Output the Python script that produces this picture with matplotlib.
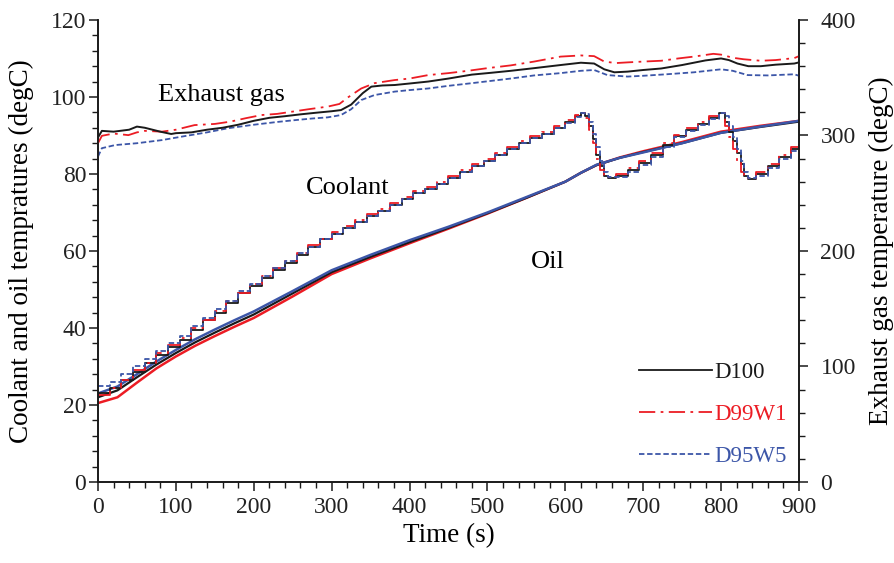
import matplotlib
matplotlib.use("Agg")
import matplotlib.pyplot as plt
from matplotlib.ticker import MultipleLocator

plt.rcParams['font.family'] = ['Liberation Serif', 'DejaVu Serif']
plt.rcParams['font.size'] = 17

BLACK = '#1a1a1a'
RED = '#ec1c24'
BLUE = '#3c56a8'

# Exhaust gas temperature (degC, right axis)
exh_t_d100 = [0, 5, 20, 40, 50, 60, 80, 94, 100, 120, 140, 160, 180, 200, 220, 240, 260, 280,
              300, 312, 325, 340, 351, 365, 381, 400, 424, 450, 480, 505, 530, 560, 594, 620,
              637, 650, 663, 680, 700, 723, 750, 780, 800, 810, 821, 835, 851, 870, 894, 900]
exh_d100 = [298.3, 304, 303.3, 305, 307.7, 306.7, 303.3, 301.3, 302, 302.7, 305, 306.7, 309.3,
            312.7, 315.3, 316.7, 318.3, 319.7, 321, 322, 326.7, 336.7, 342.3, 343.3, 343.7, 345,
            346.7, 349.3, 352.7, 354.3, 356, 358.3, 361, 363, 362.3, 357.3, 354.7, 355.3, 356.7,
            358, 361, 365, 366.7, 365.3, 362.3, 360, 360, 361.3, 362.3, 363.3]

exh_t_d99w1 = [0, 5, 20, 39, 50, 60, 82, 100, 124, 150, 170, 190, 210, 230, 250, 270, 295, 310,
               321, 338, 355, 381, 400, 424, 450, 475, 500, 530, 560, 594, 620, 637, 650, 665,
               680, 700, 723, 745, 765, 790, 800, 815, 829, 851, 870, 894, 900]
exh_d99w1 = [293.3, 299.7, 301.7, 300.3, 302.7, 304, 303.3, 305, 309, 310, 312, 315, 317.7,
             318.7, 320.7, 322.7, 325, 327.3, 333, 340.7, 345.3, 348, 349.3, 352.3, 354, 356,
             358.3, 360.7, 364, 368.3, 369.3, 368.7, 364, 362.7, 363.3, 364, 364.7, 366.7,
             368.3, 370.7, 370, 367.3, 366, 364.7, 365.3, 367, 368.7]

exh_t_d95w5 = [0, 5, 22, 50, 82, 110, 140, 167, 200, 230, 253, 275, 295, 312, 325, 338, 355,
               381, 400, 424, 450, 480, 505, 530, 560, 594, 620, 637, 654, 680, 700, 730, 765,
               800, 815, 834, 860, 894, 900]
exh_d95w5 = [281.7, 289, 291.7, 293.3, 296, 299.3, 302.7, 306.3, 309.3, 311.7, 313.3, 314.7,
             315.7, 317.7, 322.7, 330.7, 335, 338, 339.3, 340.7, 343, 345.3, 347.3, 349.3, 352,
             354, 356, 356.7, 352.3, 351, 351.7, 353, 354.7, 357.3, 356, 352.3, 352, 353, 351.7]

# Coolant temperature (degC, left axis)
cool_t = [0, 15, 30, 45, 60, 75, 90, 105, 120, 135, 150, 165, 180, 195, 210, 225, 240, 255,
          270, 285, 300, 315, 330, 345, 360, 375, 390, 405, 420, 435, 450, 465, 480, 495, 510,
          525, 540, 555, 570, 585, 600, 612, 620, 625, 630, 635, 640, 645, 650, 655, 665, 680,
          695, 710, 725, 740, 755, 770, 785, 797, 805, 810, 815, 820, 825, 830, 835, 845, 860,
          875, 890, 900]
cool_d100 = [23, 24.5, 26.5, 28.5, 31, 33, 35, 37, 39.5, 42, 44, 46.5, 49, 51, 53, 55, 57, 59,
             61, 63, 64.5, 66, 67.5, 69, 70.5, 72, 73.5, 75, 76, 77.5, 79, 80.5, 82, 83.5, 85,
             86.5, 88, 89.3, 90.5, 92, 93.5, 95, 95.8, 95, 92.5, 89, 85, 82, 79.5, 79, 79.5, 81,
             82.8, 85, 87.5, 89.8, 91.5, 93, 94.5, 95.8, 93.5, 91, 88.5, 85.5, 82.5, 79.5, 78.7,
             80, 82, 84.5, 86.5, 87.5]
cool_d99w1 = [22.5, 24.5, 26.5, 29, 31, 33.5, 35.5, 37.5, 40, 42, 44.5, 47, 49, 51.5, 53.5,
              55.5, 57.5, 59.5, 61.5, 63, 65, 66.5, 68, 69.5, 71, 72.5, 74, 75.5, 76.5, 78, 79.5,
              81, 82.5, 84, 85.5, 87, 88.5, 89.8, 91, 92.5, 94, 95.3, 95.8, 94.5, 91.5, 88, 84,
              81, 79.5, 79.3, 80, 81.5, 83.3, 85.5, 88, 90.2, 92, 93.5, 95, 95.8, 92.5, 89.5,
              86.5, 83.5, 80.5, 79, 79, 80.5, 82.5, 85, 87, 88]
cool_d95w5 = [25, 26, 28, 30, 32, 34, 36, 38, 40.5, 42.5, 45, 47, 49.5, 51.5, 53.5, 55.5, 57.5,
              59.5, 61, 63, 64.5, 66, 67.5, 69, 70.5, 72, 73.5, 75, 76, 77.5, 79, 80.5, 82, 83.5,
              85, 86.5, 88, 89.3, 90.5, 92, 93.3, 94.8, 95.8, 95.5, 93.5, 90.5, 87, 83.5, 80.5,
              79.2, 79.2, 80.5, 82.3, 84.5, 87, 89.5, 91.2, 92.8, 94.3, 95.8, 95, 92.5, 89.5,
              86.5, 83.5, 80.5, 79, 79.5, 81.5, 84, 86, 87]

# Oil temperature (degC, left axis)
oil_t = [0, 25, 50, 75, 100, 125, 150, 175, 200, 250, 300, 350, 400, 450, 500, 550, 600, 620,
         640, 670, 700, 750, 800, 850, 900]
oil_d100 = [22, 23.8, 27.2, 30.5, 33.5, 36.3, 38.8, 41.2, 43.5, 49, 54.5, 58.5, 62.3, 66,
            69.8, 73.8, 78, 80.3, 82.3, 84.2, 85.7, 88, 90.7, 92.2, 93.6]
oil_d99w1 = [20.5, 22, 25.8, 29.5, 32.6, 35.4, 37.9, 40.3, 42.6, 48.2, 54, 58.1, 62, 65.8,
             69.7, 73.8, 78, 80.3, 82.3, 84.3, 85.9, 88.3, 91, 92.5, 93.8]
oil_d95w5 = [23, 24.8, 28, 31.3, 34.3, 37.1, 39.6, 42, 44.3, 49.6, 55, 59, 62.8, 66.3, 70,
             74, 78, 80.3, 82.4, 84.2, 85.6, 88, 90.7, 92.3, 93.8]

DASHDOT = (0, (9, 3, 1.5, 3))
DASHED = (0, (3, 1.5))

fig = plt.figure(figsize=(8.94, 5.63), dpi=100)
ax = fig.add_axes([0.1096, 0.1439, 0.7841, 0.8206])
ax2 = ax.twinx()

# oil (solid for all fuels)
ax.plot(oil_t, oil_d99w1, color=RED, lw=1.8)
ax.plot(oil_t, oil_d100, color=BLACK, lw=1.6)
ax.plot(oil_t, oil_d95w5, color=BLUE, lw=1.8)

# coolant
l1, = ax.plot(cool_t, cool_d100, color=BLACK, lw=1.3, drawstyle='steps-post', label='D100')
l2, = ax.plot(cool_t, cool_d99w1, color=RED, lw=1.3, ls=DASHDOT, drawstyle='steps-post',
              label='D99W1')
l3, = ax.plot(cool_t, cool_d95w5, color=BLUE, lw=1.3, ls=DASHED, drawstyle='steps-post',
              label='D95W5')

# exhaust gas
ax2.plot(exh_t_d99w1, exh_d99w1, color=RED, lw=1.3, ls=DASHDOT)
ax2.plot(exh_t_d95w5, exh_d95w5, color=BLUE, lw=1.3, ls=DASHED)
ax2.plot(exh_t_d100, exh_d100, color=BLACK, lw=1.4)

ax.set_xlim(0, 900)
ax.set_ylim(0, 120)
ax2.set_ylim(0, 400)
ax.xaxis.set_major_locator(MultipleLocator(100))
ax.xaxis.set_minor_locator(MultipleLocator(20))
ax.yaxis.set_major_locator(MultipleLocator(20))
ax.yaxis.set_minor_locator(MultipleLocator(4))
ax2.yaxis.set_major_locator(MultipleLocator(100))
ax2.yaxis.set_minor_locator(MultipleLocator(20))

for a in (ax, ax2):
    a.spines['top'].set_visible(False)
    for s in a.spines.values():
        s.set_linewidth(1.2)
        s.set_color(BLACK)
    a.tick_params(which='major', direction='out', length=6.5, width=1.1, colors=BLACK,
                  labelcolor='#222222', labelsize=17)
    a.tick_params(which='minor', direction='out', length=4, width=1.0, colors=BLACK)
ax.tick_params(axis='y', which='major', pad=2)
ax.tick_params(axis='x', which='major', pad=4)
ax2.tick_params(axis='y', which='major', pad=9)

ax.set_xlabel('Time (s)', fontsize=19.5, labelpad=4)
ax.set_ylabel('Coolant and oil tempratures (degC)', fontsize=19.5, labelpad=12)
ax2.set_ylabel('Exhaust gas temperature (degC)', fontsize=19.5, labelpad=9)

ax.text(159, 100.5, 'Exhaust gas', fontsize=19, ha='center', va='center')
ax.text(320, 76.4, 'Coolant', fontsize=19, ha='center', va='center')
ax.text(578, 57.1, 'Oil', fontsize=19, ha='center', va='center')

ax.legend(handles=[l1, l2, l3], loc='lower right', bbox_to_anchor=(0.996, 0.012),
          borderaxespad=0, frameon=False, handlelength=3.2, labelspacing=0.92,
          handletextpad=0.1, labelcolor='linecolor', fontsize=16.5)

fig.savefig('out.png', dpi=100)
